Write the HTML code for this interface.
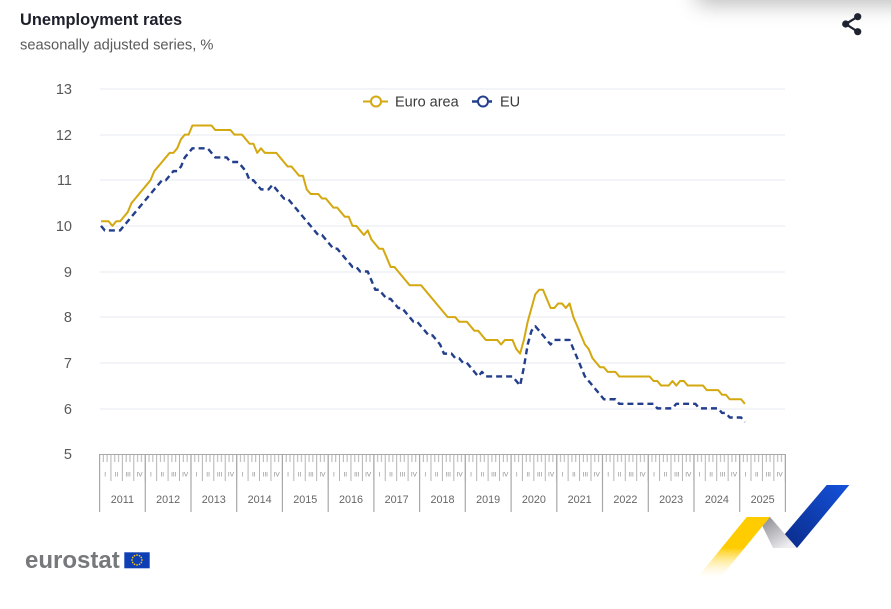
<!DOCTYPE html>
<html>
<head>
<meta charset="utf-8">
<style>
html,body{margin:0;padding:0;background:#fff;}
body{width:891px;height:609px;position:relative;overflow:hidden;font-family:"Liberation Sans",Arial,sans-serif;}
.shadow{position:absolute;left:705px;top:-44px;width:220px;height:40px;background:#fff;box-shadow:0 0 22px 8px rgba(0,0,0,0.28);}
svg{position:absolute;left:0;top:0;}
</style>
</head>
<body>
<div class="shadow"></div>
<svg width="891" height="609" viewBox="0 0 891 609" xmlns="http://www.w3.org/2000/svg" font-family="Liberation Sans, Arial, sans-serif">
<defs>
 <pattern id="tk" patternUnits="userSpaceOnUse" x="99" y="454" width="11.43" height="28">
  <rect x="0" y="0" width="1" height="27" fill="#b4b4b4"/>
  <rect x="3.81" y="0" width="1" height="8" fill="#b4b4b4"/>
  <rect x="7.62" y="0" width="1" height="8" fill="#b4b4b4"/>
 </pattern>
 <linearGradient id="yel" gradientUnits="userSpaceOnUse" x1="0" y1="517" x2="0" y2="578">
  <stop offset="0" stop-color="#ffcc00"/>
  <stop offset="0.5" stop-color="#ffcc00"/>
  <stop offset="1" stop-color="#ffffff" stop-opacity="0.2"/>
 </linearGradient>
 <linearGradient id="gry" gradientUnits="userSpaceOnUse" x1="765" y1="517" x2="785" y2="548">
  <stop offset="0" stop-color="#8c8c92"/>
  <stop offset="1" stop-color="#efeff2"/>
 </linearGradient>
 <linearGradient id="blu" gradientUnits="userSpaceOnUse" x1="845" y1="485" x2="790" y2="548">
  <stop offset="0" stop-color="#1450d8"/>
  <stop offset="1" stop-color="#0b2d8c"/>
 </linearGradient>
</defs>

<!-- Title -->
<text x="20" y="25" font-size="16.4" font-weight="bold" fill="#1e1f2b">Unemployment rates</text>
<text x="20" y="49.5" font-size="14.7" fill="#5a5a5a">seasonally adjusted series, %</text>

<!-- share icon -->
<g stroke="#1f2330" stroke-width="2.2" fill="#1f2330">
 <line x1="857.7" y1="16.7" x2="845.7" y2="24"/>
 <line x1="845.7" y1="24" x2="857.7" y2="31.7"/>
 <circle cx="857.7" cy="16.7" r="3.6" stroke="none"/>
 <circle cx="845.7" cy="24" r="3.6" stroke="none"/>
 <circle cx="857.7" cy="31.7" r="3.6" stroke="none"/>
</g>

<!-- gridlines -->
<g fill="#e7e9f2">
 <rect x="100" y="88.5" width="685" height="1"/>
 <rect x="100" y="134.5" width="685" height="1"/>
 <rect x="100" y="179.5" width="685" height="1"/>
 <rect x="100" y="225.5" width="685" height="1"/>
 <rect x="100" y="271.5" width="685" height="1"/>
 <rect x="100" y="316.5" width="685" height="1"/>
 <rect x="100" y="362.5" width="685" height="1"/>
 <rect x="100" y="408.5" width="685" height="1"/>
</g>

<!-- y labels -->
<g font-size="14.5" fill="#595959" text-anchor="end">
 <text x="72" y="94">13</text>
 <text x="72" y="140">12</text>
 <text x="72" y="185">11</text>
 <text x="72" y="231">10</text>
 <text x="72" y="277">9</text>
 <text x="72" y="322">8</text>
 <text x="72" y="368">7</text>
 <text x="72" y="414">6</text>
 <text x="72" y="459">5</text>
</g>

<!-- legend -->
<line x1="363" y1="101.5" x2="388" y2="101.5" stroke="#d4a811" stroke-width="2"/>
<circle cx="376" cy="101.5" r="5" fill="#fff" stroke="#d4a811" stroke-width="2"/>
<text x="395" y="106.5" font-size="14.5" fill="#3a3a3a">Euro area</text>
<line x1="472" y1="101.5" x2="478" y2="101.5" stroke="#233f8c" stroke-width="2.5"/>
<line x1="489" y1="101.5" x2="492" y2="101.5" stroke="#233f8c" stroke-width="2.5"/>
<circle cx="483" cy="101.5" r="5" fill="#fff" stroke="#233f8c" stroke-width="2"/>
<text x="500" y="106.5" font-size="14.5" fill="#3a3a3a">EU</text>

<!-- x axis -->
<rect x="99" y="454" width="687" height="27" fill="url(#tk)"/>
<rect x="99" y="454" width="687" height="1" fill="#a8a8a8"/>
<g fill="#a8a8a8">
 <rect x="99" y="454" width="1.2" height="58"/>
 <rect x="144.7" y="454" width="1.2" height="58"/>
 <rect x="190.4" y="454" width="1.2" height="58"/>
 <rect x="236.1" y="454" width="1.2" height="58"/>
 <rect x="281.8" y="454" width="1.2" height="58"/>
 <rect x="327.6" y="454" width="1.2" height="58"/>
 <rect x="373.3" y="454" width="1.2" height="58"/>
 <rect x="419" y="454" width="1.2" height="58"/>
 <rect x="464.7" y="454" width="1.2" height="58"/>
 <rect x="510.5" y="454" width="1.2" height="58"/>
 <rect x="556.2" y="454" width="1.2" height="58"/>
 <rect x="601.9" y="454" width="1.2" height="58"/>
 <rect x="647.7" y="454" width="1.2" height="58"/>
 <rect x="693.4" y="454" width="1.2" height="58"/>
 <rect x="739.1" y="454" width="1.2" height="58"/>
 <rect x="784.8" y="454" width="1.2" height="58"/>
</g>

<!-- quarter numerals -->
<g font-size="6.5" fill="#8c8c8c" text-anchor="middle">
 <g transform="translate(99.5,476.5)"><text x="5.7">I</text><text x="17.1">II</text><text x="28.6">III</text><text x="40">IV</text></g>
 <g transform="translate(145.2,476.5)"><text x="5.7">I</text><text x="17.1">II</text><text x="28.6">III</text><text x="40">IV</text></g>
 <g transform="translate(191,476.5)"><text x="5.7">I</text><text x="17.1">II</text><text x="28.6">III</text><text x="40">IV</text></g>
 <g transform="translate(236.7,476.5)"><text x="5.7">I</text><text x="17.1">II</text><text x="28.6">III</text><text x="40">IV</text></g>
 <g transform="translate(282.4,476.5)"><text x="5.7">I</text><text x="17.1">II</text><text x="28.6">III</text><text x="40">IV</text></g>
 <g transform="translate(328.2,476.5)"><text x="5.7">I</text><text x="17.1">II</text><text x="28.6">III</text><text x="40">IV</text></g>
 <g transform="translate(373.9,476.5)"><text x="5.7">I</text><text x="17.1">II</text><text x="28.6">III</text><text x="40">IV</text></g>
 <g transform="translate(419.6,476.5)"><text x="5.7">I</text><text x="17.1">II</text><text x="28.6">III</text><text x="40">IV</text></g>
 <g transform="translate(465.3,476.5)"><text x="5.7">I</text><text x="17.1">II</text><text x="28.6">III</text><text x="40">IV</text></g>
 <g transform="translate(511.1,476.5)"><text x="5.7">I</text><text x="17.1">II</text><text x="28.6">III</text><text x="40">IV</text></g>
 <g transform="translate(556.8,476.5)"><text x="5.7">I</text><text x="17.1">II</text><text x="28.6">III</text><text x="40">IV</text></g>
 <g transform="translate(602.5,476.5)"><text x="5.7">I</text><text x="17.1">II</text><text x="28.6">III</text><text x="40">IV</text></g>
 <g transform="translate(648.3,476.5)"><text x="5.7">I</text><text x="17.1">II</text><text x="28.6">III</text><text x="40">IV</text></g>
 <g transform="translate(694,476.5)"><text x="5.7">I</text><text x="17.1">II</text><text x="28.6">III</text><text x="40">IV</text></g>
 <g transform="translate(739.7,476.5)"><text x="5.7">I</text><text x="17.1">II</text><text x="28.6">III</text><text x="40">IV</text></g>
</g>

<!-- year labels -->
<g font-size="10.8" fill="#666" text-anchor="middle">
 <text x="122.4" y="503">2011</text>
 <text x="168.1" y="503">2012</text>
 <text x="213.8" y="503">2013</text>
 <text x="259.6" y="503">2014</text>
 <text x="305.3" y="503">2015</text>
 <text x="351" y="503">2016</text>
 <text x="396.7" y="503">2017</text>
 <text x="442.5" y="503">2018</text>
 <text x="488.2" y="503">2019</text>
 <text x="533.9" y="503">2020</text>
 <text x="579.7" y="503">2021</text>
 <text x="625.4" y="503">2022</text>
 <text x="671.1" y="503">2023</text>
 <text x="716.9" y="503">2024</text>
 <text x="762.6" y="503">2025</text>
</g>

<!-- EU series -->
<polyline fill="none" stroke="#233f8c" stroke-width="2.4" stroke-dasharray="6 4" stroke-linejoin="round" points="101,225.88 104.8,230.44 120.1,230.44 123.9,225.88 127.7,221.31 131.5,216.75 135.3,212.19 139.1,207.63 142.9,203.06 146.7,198.5 150.5,193.94 154.3,189.38 158.2,184.81 162,180.25 165.8,180.25 169.6,175.69 173.4,171.13 177.2,171.13 181,166.56 184.8,157.44 188.6,152.88 192.4,148.31 207.7,148.31 211.5,152.88 215.3,157.44 226.7,157.44 230.5,162 238.2,162 242,166.56 245.8,171.13 249.6,180.25 253.4,180.25 257.2,184.81 261,189.38 268.6,189.38 272.5,184.81 276.3,189.38 280.1,193.94 283.9,198.5 287.7,198.5 291.5,203.06 295.3,207.63 299.1,212.19 302.9,216.75 306.7,221.31 310.6,225.88 314.4,230.44 318.2,235 322,235 325.8,239.56 329.6,244.13 333.4,248.69 337.2,248.69 341,253.25 344.8,257.81 348.7,262.38 352.5,266.94 356.3,266.94 360.1,271.5 367.7,271.5 371.5,280.63 375.3,289.75 379.1,289.75 382.9,294.31 386.8,298.88 390.6,298.88 394.4,303.44 398.2,308 402,308 405.8,312.56 409.6,317.13 413.4,321.69 417.2,321.69 421,326.25 424.9,330.81 428.7,335.38 432.5,335.38 436.3,339.94 440.1,344.5 443.9,353.63 451.5,353.63 455.3,358.19 459.1,358.19 463,362.75 466.8,362.75 470.6,367.31 474.4,371.88 478.2,376.44 482,371.88 485.8,376.44 512.5,376.44 516.3,381 520.1,385.56 523.9,367.31 527.7,344.5 531.5,330.81 535.3,326.25 539.2,330.81 543,335.38 546.8,339.94 550.6,344.5 554.4,339.94 569.6,339.94 573.4,349.06 577.3,358.19 581.1,367.31 584.9,376.44 588.7,381 592.5,385.56 596.3,390.13 600.1,394.69 603.9,399.25 615.4,399.25 619.2,403.81 653.5,403.81 657.3,408.38 672.5,408.38 676.3,403.81 695.4,403.81 699.2,408.38 718.2,408.38 722,412.94 725.8,412.94 729.7,417.5 741.1,417.5 744.9,422.06"/>

<!-- Euro area series -->
<polyline fill="none" stroke="#d4a811" stroke-width="2" stroke-linejoin="round" points="101,221.31 108.6,221.31 112.4,225.88 116.2,221.31 120.1,221.31 123.9,216.75 127.7,212.19 131.5,203.06 135.3,198.5 139.1,193.94 142.9,189.38 146.7,184.81 150.5,180.25 154.3,171.13 158.2,166.56 162,162 165.8,157.44 169.6,152.88 173.4,152.88 177.2,148.31 181,139.19 184.8,134.63 188.6,134.63 192.4,125.5 211.5,125.5 215.3,130.06 230.5,130.06 234.4,134.63 242,134.63 245.8,139.19 249.6,143.75 253.4,143.75 257.2,152.88 261,148.31 264.8,152.88 276.3,152.88 280.1,157.44 283.9,162 287.7,166.56 291.5,166.56 295.3,171.13 299.1,175.69 302.9,175.69 306.7,189.38 310.6,193.94 318.2,193.94 322,198.5 325.8,198.5 329.6,203.06 333.4,207.63 337.2,207.63 341,212.19 344.8,216.75 348.7,216.75 352.5,225.88 356.3,225.88 360.1,230.44 363.9,235 367.7,230.44 371.5,239.56 375.3,244.13 379.1,248.69 382.9,248.69 386.8,257.81 390.6,266.94 394.4,266.94 398.2,271.5 402,276.06 405.8,280.63 409.6,285.19 421,285.19 447.7,317.13 455.3,317.13 459.1,321.69 466.8,321.69 470.6,326.25 474.4,330.81 478.2,330.81 482,335.38 485.8,339.94 497.2,339.94 501.1,344.5 504.9,339.94 512.5,339.94 516.3,349.06 520.1,353.63 523.9,339.94 527.7,321.69 531.5,308 535.3,294.31 539.2,289.75 543,289.75 546.8,298.88 550.6,308 554.4,308 558.2,303.44 562,303.44 565.8,308 569.6,303.44 573.4,317.13 577.3,326.25 581.1,335.38 584.9,344.5 588.7,349.06 592.5,358.19 596.3,362.75 600.1,367.31 603.9,367.31 607.7,371.88 615.4,371.88 619.2,376.44 649.6,376.44 653.5,381 657.3,381 661.1,385.56 668.7,385.56 672.5,381 676.3,385.56 680.1,381 683.9,381 687.7,385.56 703,385.56 706.8,390.13 718.2,390.13 722,394.69 725.8,394.69 729.7,399.25 741.1,399.25 744.9,403.81"/>

<!-- eurostat logo -->
<text x="25" y="568" font-size="24" font-weight="bold" fill="#77787c">eurostat</text>
<rect x="124.3" y="552.3" width="25.4" height="16" fill="#0f3fb5"/>
<g fill="#ffcc00">
 <circle cx="137" cy="555" r="0.85"/><circle cx="139.5" cy="555.7" r="0.85"/><circle cx="141.3" cy="557.5" r="0.85"/>
 <circle cx="142" cy="560" r="0.85"/><circle cx="141.3" cy="562.5" r="0.85"/><circle cx="139.5" cy="564.3" r="0.85"/>
 <circle cx="137" cy="565" r="0.85"/><circle cx="134.5" cy="564.3" r="0.85"/><circle cx="132.7" cy="562.5" r="0.85"/>
 <circle cx="132" cy="560" r="0.85"/><circle cx="132.7" cy="557.5" r="0.85"/><circle cx="134.5" cy="555.7" r="0.85"/>
</g>

<!-- ribbon decoration -->
<polygon points="773,548 797,548 849.3,485 826.7,485" fill="url(#blu)"/>
<polygon points="758,517 770,517 797,548 773,548" fill="url(#gry)"/>
<polygon points="746.7,517 770,517 720,578 697,578" fill="url(#yel)"/>
</svg>
</body>
</html>
